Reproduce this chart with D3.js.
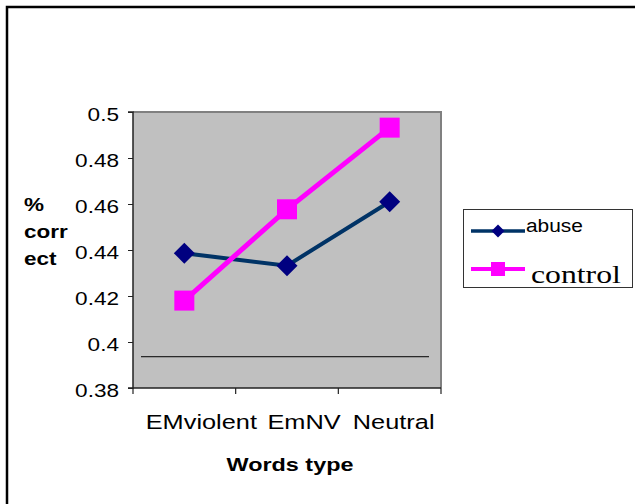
<!DOCTYPE html>
<html>
<head>
<meta charset="utf-8">
<script src="https://cdn.jsdelivr.net/npm/d3@7"></script>
<style>
  html, body { margin: 0; padding: 0; background: #fff; }
  svg { display: block; }
  text { font-family: "Liberation Sans", Arial, sans-serif; }
  text.serif { font-family: "Liberation Serif", "Times New Roman", serif; }
</style>
</head>
<body>
<svg id="chart" width="635" height="504"></svg>
<script>
// Word categories and proportion correct for each group
const categories = ["EMviolent", "EmNV", "Neutral"];
const abuse = [0.4386, 0.4332, 0.4610];
const control = [0.4180, 0.4577, 0.4932];
const yTicks = [0.38, 0.4, 0.42, 0.44, 0.46, 0.48, 0.5];
const baselineValue = 0.3936;

const svg = d3.select("#chart");
const plot = { left: 133, right: 441, top: 112, bottom: 388 };

const x = d3.scaleBand().domain(categories).range([plot.left, plot.right]);
const y = d3.scaleLinear().domain([0.38, 0.5]).range([plot.bottom, plot.top]);
const cx = c => x(c) + x.bandwidth() / 2;

// outer frame
svg.append("rect").attr("x", 7).attr("y", 7).attr("width", 700).attr("height", 600)
  .attr("fill", "none").attr("stroke", "#000").attr("stroke-width", 2.5);

// plot area
svg.append("rect")
  .attr("x", plot.left).attr("y", plot.top)
  .attr("width", plot.right - plot.left).attr("height", plot.bottom - plot.top)
  .attr("fill", "#c0c0c0");
svg.append("path")
  .attr("d", `M${plot.left},${plot.top}H${plot.right}V${plot.bottom}`)
  .attr("fill", "none").attr("stroke", "#808080").attr("stroke-width", 2);

// y axis
const yAxis = d3.axisLeft(y).tickValues(yTicks).tickSize(5);
const gy = svg.append("g").attr("transform", `translate(${plot.left},0)`).call(yAxis);
gy.select(".domain").attr("stroke", "#222").attr("stroke-width", 1.5).attr("d", `M-5,${plot.top}H0V${plot.bottom}H-5`);
gy.selectAll(".tick line").attr("stroke", "#222");
gy.selectAll(".tick text").remove();
gy.selectAll(".tick").append("text")
  .attr("transform", "translate(-14,8) scale(1.29,1)")
  .attr("text-anchor", "end").attr("fill", "#000").attr("font-size", 17.5)
  .text(d => String(+d.toFixed(2)));

// x axis with ticks at category boundaries
const xAxisG = svg.append("g").attr("transform", `translate(0,${plot.bottom})`);
xAxisG.append("line").attr("x1", plot.left).attr("x2", plot.right)
  .attr("stroke", "#222").attr("stroke-width", 1.5);
const bounds = categories.map(c => x(c)).concat([x(categories[categories.length - 1]) + x.bandwidth()]);
xAxisG.selectAll("line.tk").data(bounds).join("line").attr("class", "tk")
  .attr("x1", d => d).attr("x2", d => d).attr("y1", 0).attr("y2", 6)
  .attr("stroke", "#222").attr("stroke-width", 1.2);
// labels sit slightly right of centre, the last one tucked inside the final tick
xAxisG.selectAll("text.cat").data(categories).join("text").attr("class", "cat")
  .attr("transform", (d, i) => `translate(${cx(d) + (i === categories.length - 1 ? 4 : 17)},41) scale(1.3,1)`)
  .attr("text-anchor", "middle").attr("font-size", 19.5).attr("fill", "#000")
  .text(d => d);

// horizontal rule inside the plot
svg.append("line")
  .attr("x1", x(categories[0]) + 8).attr("x2", plot.right - 12)
  .attr("y1", y(baselineValue)).attr("y2", y(baselineValue))
  .attr("stroke", "#000").attr("stroke-width", 1);

// series
const line = d3.line().x((d, i) => cx(categories[i])).y(d => y(d));
svg.append("path").datum(abuse).attr("d", line)
  .attr("fill", "none").attr("stroke", "#003366").attr("stroke-width", 4);
svg.append("path").datum(control).attr("d", line)
  .attr("fill", "none").attr("stroke", "#ff00ff").attr("stroke-width", 5);

const diamond = r => `M0,${-r}L${r},0L0,${r}L${-r},0Z`;
svg.selectAll("path.dia").data(abuse).join("path").attr("class", "dia")
  .attr("transform", (d, i) => `translate(${cx(categories[i])},${y(d)})`)
  .attr("d", diamond(10.5)).attr("fill", "#000080");
svg.selectAll("rect.sq").data(control).join("rect").attr("class", "sq")
  .attr("x", (d, i) => cx(categories[i]) - 10).attr("y", d => y(d) - 10)
  .attr("width", 20).attr("height", 20).attr("fill", "#ff00ff");

// axis titles
const yTitle = ["%", "corr", "ect"];
svg.selectAll("text.yt").data(yTitle).join("text").attr("class", "yt")
  .attr("transform", (d, i) => `translate(24,${211 + i * 27}) scale(1.25,1)`)
  .attr("font-size", 18).attr("font-weight", "bold").attr("fill", "#000")
  .text(d => d);
svg.append("text")
  .attr("transform", `translate(${(plot.left + plot.right) / 2 + 3},471) scale(1.3,1)`)
  .attr("text-anchor", "middle").attr("font-size", 18).attr("font-weight", "bold")
  .text("Words type");

// legend
const lg = svg.append("g");
lg.append("rect").attr("x", 463.5).attr("y", 209.5).attr("width", 169).attr("height", 78)
  .attr("fill", "#fff").attr("stroke", "#333").attr("stroke-width", 1);
lg.append("line").attr("x1", 471).attr("x2", 525).attr("y1", 231).attr("y2", 231)
  .attr("stroke", "#003366").attr("stroke-width", 3.5);
lg.append("path").attr("transform", "translate(498,231)").attr("d", diamond(6.5)).attr("fill", "#000080");
lg.append("text").attr("transform", "translate(526,232) scale(1.1,1)")
  .attr("font-size", 19).text("abuse");
lg.append("line").attr("x1", 471).attr("x2", 525).attr("y1", 269).attr("y2", 269)
  .attr("stroke", "#ff00ff").attr("stroke-width", 4);
lg.append("rect").attr("x", 491).attr("y", 262).attr("width", 14).attr("height", 14).attr("fill", "#ff00ff");
lg.append("text").attr("class", "serif").attr("transform", "translate(531,283) scale(1.22,1)")
  .attr("font-size", 26).text("control");
</script>
</body>
</html>
